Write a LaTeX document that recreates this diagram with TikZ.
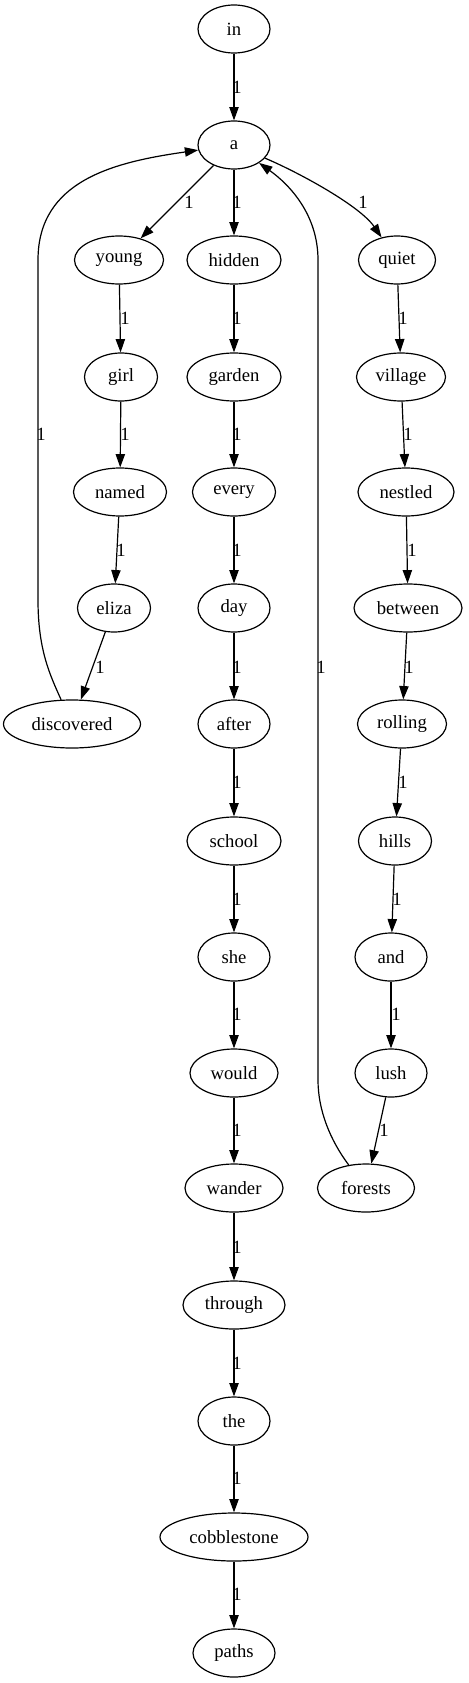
\documentclass[tikz,border=0pt]{standalone}
\usepackage{fontspec}
\setmainfont{Liberation Serif}
\usetikzlibrary{shapes.geometric,arrows.meta}
\tikzset{
  nd/.style={draw, ellipse, line width=0.9pt, inner sep=0pt, minimum height=36pt, font=\fontsize{14}{16}\selectfont},
  wd/.style={minimum width={#1*0.75pt}},
  arr/.style={draw, line width=0.9pt, -{Triangle[length=10pt,width=7pt]}},
  lbl/.style={inner sep=0pt, font=\fontsize{14}{16}\selectfont}
}
\begin{document}
\begin{tikzpicture}[x=0.75pt,y=-0.75pt]
\useasboundingbox (0,0) rectangle (468,1683);
% nodes
\node[nd,wd=72] (in) at (234,29) {in};
\node[nd,wd=72] (a) at (234,145) {a};
\node[nd,wd=89] (young) at (119,260) {young};
\node[nd,wd=94] (hidden) at (234,260) {hidden};
\node[nd,wd=77] (quiet) at (397,260) {quiet};
\node[nd,wd=73] (girl) at (121,377) {girl};
\node[nd,wd=94] (garden) at (234,377) {garden};
\node[nd,wd=89] (village) at (401,377) {village};
\node[nd,wd=93] (named) at (120,492) {named};
\node[nd,wd=83] (every) at (234,492) {every};
\node[nd,wd=96] (nestled) at (406,492) {nestled};
\node[nd,wd=73] (eliza) at (114,608) {eliza};
\node[nd,wd=72] (day) at (234,608) {day};
\node[nd,wd=108] (between) at (408,608) {between};
\node[nd,wd=137] (discovered) at (72,724) {discovered};
\node[nd,wd=72] (after) at (234,724) {after};
\node[nd,wd=89] (rolling) at (402,724) {rolling};
\node[nd,wd=94] (school) at (234,841) {school};
\node[nd,wd=73] (hills) at (395,841) {hills};
\node[nd,wd=72] (she) at (234,957) {she};
\node[nd,wd=72] (and) at (391,957) {and};
\node[nd,wd=88] (would) at (234,1073) {would};
\node[nd,wd=72] (lush) at (391,1073) {lush};
\node[nd,wd=98] (wander) at (234,1188) {wander};
\node[nd,wd=97] (forests) at (366,1188) {forests};
\node[nd,wd=102] (through) at (234,1305) {through};
\node[nd,wd=72] (the) at (234,1421) {the};
\node[nd,wd=148] (cobblestone) at (234,1537) {cobblestone};
\node[nd,wd=82] (paths) at (234,1653) {paths};
% edges
\draw[arr] (in) -- (a);
\draw[arr] (a) -- (young);
\draw[arr] (a) -- (hidden);
\draw[arr] (a) .. controls (300,173) and (360,206) .. (quiet);
\draw[arr] (young) -- (girl);
\draw[arr] (girl) -- (named);
\draw[arr] (named) -- (eliza);
\draw[arr] (eliza) -- (discovered);
\draw[arr] (discovered) .. controls (50,675) and (38,650) .. (38,600) -- (38,260) .. controls (38,180) and (115,162) .. (a);
\draw[arr] (hidden) -- (garden);
\draw[arr] (garden) -- (every);
\draw[arr] (every) -- (day);
\draw[arr] (day) -- (after);
\draw[arr] (after) -- (school);
\draw[arr] (school) -- (she);
\draw[arr] (she) -- (would);
\draw[arr] (would) -- (wander);
\draw[arr] (wander) -- (through);
\draw[arr] (through) -- (the);
\draw[arr] (the) -- (cobblestone);
\draw[arr] (cobblestone) -- (paths);
\draw[arr] (quiet) -- (village);
\draw[arr] (village) -- (nestled);
\draw[arr] (nestled) -- (between);
\draw[arr] (between) -- (rolling);
\draw[arr] (rolling) -- (hills);
\draw[arr] (hills) -- (and);
\draw[arr] (and) -- (lush);
\draw[arr] (lush) -- (forests);
\draw[arr] (forests) .. controls (330,1140) and (318,1110) .. (318,1080) -- (318,260) .. controls (318,215) and (290,185) .. (a);
% labels
\node[lbl] (l1) at (237,87) {1};
\node[lbl] (l2) at (189,202) {1};
\node[lbl] (l3) at (237,202) {1};
\node[lbl] (l4) at (363,202) {1};
\node[lbl] (l5) at (125,318) {1};
\node[lbl] (l6) at (237,318) {1};
\node[lbl] (l7) at (403,318) {1};
\node[lbl] (l8) at (125,434) {1};
\node[lbl] (l9) at (237,434) {1};
\node[lbl] (l10) at (408,434) {1};
\node[lbl] (l11) at (121,550) {1};
\node[lbl] (l12) at (237,550) {1};
\node[lbl] (l13) at (412,550) {1};
\node[lbl] (l14) at (100,667) {1};
\node[lbl] (l15) at (237,667) {1};
\node[lbl] (l16) at (409,667) {1};
\node[lbl] (l17) at (41,434) {1};
\node[lbl] (l18) at (321,667) {1};
\node[lbl] (l19) at (237,782) {1};
\node[lbl] (l20) at (403,782) {1};
\node[lbl] (l21) at (237,899) {1};
\node[lbl] (l22) at (397,899) {1};
\node[lbl] (l23) at (237,1014) {1};
\node[lbl] (l24) at (396,1014) {1};
\node[lbl] (l25) at (237,1130) {1};
\node[lbl] (l26) at (384,1130) {1};
\node[lbl] (l27) at (237,1247) {1};
\node[lbl] (l28) at (237,1363) {1};
\node[lbl] (l29) at (237,1478) {1};
\node[lbl] (l30) at (237,1594) {1};
\end{tikzpicture}
\end{document}
